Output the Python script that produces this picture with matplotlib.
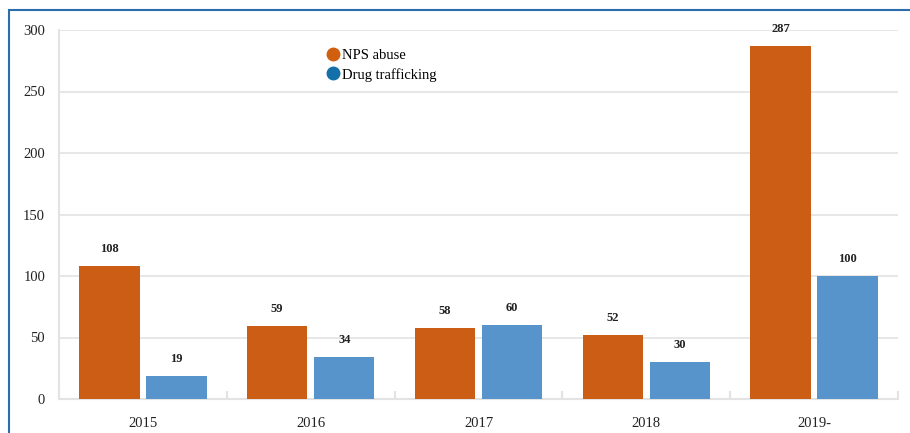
import matplotlib
matplotlib.use('Agg')
import matplotlib.pyplot as plt
from matplotlib.lines import Line2D
from matplotlib.patches import Rectangle
import numpy as np

categories = ['2015', '2016', '2017', '2018', '2019-']
nps_abuse = [108, 59, 58, 52, 287]
drug_trafficking = [19, 34, 60, 30, 100]
series_names = ['NPS abuse', 'Drug trafficking']

orange = '#CB5E14'
blue = '#5794CB'
grid_col = '#E3E3E3'

plt.rcParams['font.family'] = ['Liberation Serif', 'DejaVu Serif']

fig = plt.figure(figsize=(9.1, 4.33), dpi=100)
ax = fig.add_axes([59 / 910, 1 - 399 / 433, (898 - 59) / 910, (399 - 30) / 433])

# blue frame around the chart
fig.add_artist(Rectangle((9 / 910, -0.1), 1.2, 1 - 10 / 433 + 0.1, transform=fig.transFigure,
                         fill=False, edgecolor='#2C6DAE', linewidth=1.5))

x = np.arange(len(categories))
w = 0.36
off = 0.2
b1 = ax.bar(x - off, nps_abuse, w, color=orange, zorder=3)
b2 = ax.bar(x + off, drug_trafficking, w, color=blue, zorder=3)

for bars in (b1, b2):
    for r in bars:
        ax.annotate(f'{int(r.get_height())}', (r.get_x() + r.get_width() / 2, r.get_height()),
                    xytext=(0, 8), textcoords='offset points', ha='center', va='bottom',
                    fontsize=9, fontweight='bold', color='#222222')

ax.set_xlim(-0.5, len(categories) - 0.5)
ax.set_ylim(0, 300)
ax.set_yticks(range(0, 301, 50))
ax.yaxis.grid(True, color=grid_col, linewidth=1.2, zorder=0)
ax.set_xticks(x)
ax.set_xticklabels(categories, fontsize=10.5, color='#222222')
ax.tick_params(axis='x', length=0, pad=13)
ax.set_xticks(np.arange(-0.5, len(categories), 1), minor=True)
ax.tick_params(axis='x', which='minor', direction='in', length=6, color=grid_col, width=1.5)
ax.tick_params(axis='y', length=0, pad=10, labelsize=10.5, labelcolor='#222222')

for s in ['top', 'right']:
    ax.spines[s].set_visible(False)
for s in ['left', 'bottom']:
    ax.spines[s].set_color(grid_col)
    ax.spines[s].set_linewidth(1.5)

handles = [Line2D([], [], marker='o', linestyle='', markersize=9, color='#D0600F'),
           Line2D([], [], marker='o', linestyle='', markersize=9, color='#1370A8')]
ax.legend(handles, series_names, loc='upper left', bbox_to_anchor=(0.309, 0.965),
          frameon=False, fontsize=10.5, handletextpad=0.0, labelspacing=0.4,
          borderaxespad=0, handlelength=1.2)

fig.savefig('out.png', dpi=100)
